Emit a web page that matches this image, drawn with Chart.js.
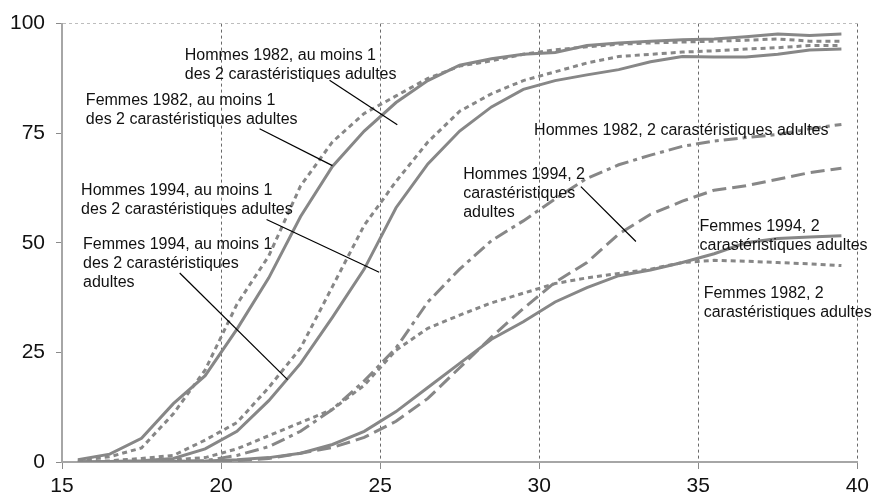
<!DOCTYPE html>
<html>
<head>
<meta charset="utf-8">
<script src="https://cdn.jsdelivr.net/npm/chart.js@4"></script>
<style>
  html, body { margin: 0; padding: 0; background: #fff; }
  #wrap { width: 874px; height: 496px; position: relative; }
</style>
</head>
<body>
<div id="wrap"><canvas id="chart"></canvas></div>
<script>
// --- ages (demi-années) ---
const ages = [15.5, 16.5, 17.5, 18.5, 19.5, 20.5, 21.5, 22.5, 23.5, 24.5, 25.5, 26.5, 27.5,
  28.5, 29.5, 30.5, 31.5, 32.5, 33.5, 34.5, 35.5, 36.5, 37.5, 38.5, 39.5];

// au moins 1 des 2 caractéristiques
const femmes1982Un = [0.5, 1.8, 5.4, 13.3, 19.7, 30.3, 42, 56, 67.4, 75.5, 82, 87, 90.5,
  92, 93, 93.4, 95, 95.6, 96, 96.3, 96.5, 97, 97.6, 97.3, 97.6];
const femmes1994Un = [0.3, 1.2, 3.2, 11, 21, 36, 47, 63, 73, 79.5, 83.5, 87.5, 90.3,
  91.5, 93, 94, 94.7, 95.3, 95.6, 95.8, 96, 96.2, 96.5, 96, 96];
const hommes1982Un = [0, 0.1, 0.3, 0.8, 3, 7, 14, 22.5, 33, 44, 58, 68, 75.5,
  81, 85, 87, 88.3, 89.5, 91.3, 92.5, 92.4, 92.4, 93, 94, 94.2];
const hommes1994Un = [0, 0.3, 0.8, 1.5, 5, 9, 17, 26, 40, 54, 64, 73, 80,
  84, 87, 89, 91, 92.5, 93, 93.5, 93.8, 94.2, 94.5, 95, 95];

// les 2 caractéristiques
const hommes1982Deux = [0, 0, 0, 0.1, 0.3, 1.5, 3.5, 7, 12, 18.5, 26, 36.5, 44,
  50.5, 55, 60, 64.7, 67.8, 70, 72, 73.2, 74, 74.7, 76, 77];
const hommes1994Deux = [0, 0, 0, 0, 0.1, 0.3, 0.8, 2, 3.3, 5.6, 9.3, 14.5, 21.5,
  28.5, 35, 41, 45.5, 52, 56.5, 59.5, 62, 63, 64.5, 66, 67];
const femmes1994Deux = [0, 0, 0, 0.1, 0.2, 0.5, 1, 2, 4, 7, 11.5, 17, 22.5,
  28, 32, 36.5, 39.8, 42.5, 43.8, 45.5, 47.5, 50, 51, 51.3, 51.6];
const femmes1982Deux = [0, 0, 0.2, 0.5, 1, 3, 6, 9, 12, 17.5, 25.5, 30.5, 33.5,
  36.3, 38.5, 40.7, 42, 43, 44, 45.5, 46, 45.8, 45.5, 45.2, 44.8];

// --- étiquettes (position du texte en unités du graphique, trait de rappel éventuel) ---
const notes = [
  { lines: ['Hommes 1982, au moins 1', 'des 2 carastéristiques adultes'], at: [18.86, 92.7], lead: [23.41, 87.1, 25.54, 76.9] },
  { lines: ['Femmes 1982, au moins 1', 'des 2 carastéristiques adultes'], at: [15.75, 82.5], lead: [21.21, 76.0, 23.5, 67.6] },
  { lines: ['Hommes 1994, au moins 1', 'des 2 carastéristiques adultes'], at: [15.6, 61.9], lead: [21.43, 55.3, 24.97, 43.3] },
  { lines: ['Femmes 1994, au moins 1', 'des 2 carastéristiques', 'adultes'], at: [15.66, 49.7], lead: [18.7, 43.1, 22.09, 18.8] },
  { lines: ['Hommes 1982, 2 carastéristiques adultes'], at: [29.84, 75.7] },
  { lines: ['Hommes 1994, 2', 'carastéristiques', 'adultes'], at: [27.61, 65.5], lead: [31.31, 62.8, 33.04, 50.3] },
  { lines: ['Femmes 1994, 2', 'carastéristiques adultes'], at: [35.04, 53.7] },
  { lines: ['Femmes 1982, 2', 'carastéristiques adultes'], at: [35.17, 38.5] }
];

const GREY = '#878787';
const DOT = [5, 4];
const LONG = [14, 6];
const DASHDOT = [14, 5, 4, 5];

function serie(label, values, dash) {
  return {
    label,
    data: ages.map((a, i) => ({ x: a, y: values[i] })),
    borderColor: GREY,
    borderWidth: 3,
    borderDash: dash,
    pointRadius: 0,
    fill: false,
    tension: 0
  };
}

const notesPlugin = {
  id: 'notes',
  afterDraw(chart) {
    const { ctx, scales: { x, y } } = chart;
    ctx.save();
    ctx.font = '16px "Liberation Sans", Arial, sans-serif';
    ctx.fillStyle = '#111';
    ctx.textBaseline = 'middle';
    ctx.textAlign = 'left';
    notes.forEach(n => {
      if (n.lead) {
        ctx.strokeStyle = '#000';
        ctx.lineWidth = 1.2;
        ctx.setLineDash([]);
        ctx.beginPath();
        ctx.moveTo(x.getPixelForValue(n.lead[0]), y.getPixelForValue(n.lead[1]));
        ctx.lineTo(x.getPixelForValue(n.lead[2]), y.getPixelForValue(n.lead[3]));
        ctx.stroke();
      }
      const px = x.getPixelForValue(n.at[0]);
      const py = y.getPixelForValue(n.at[1]);
      n.lines.forEach((t, i) => ctx.fillText(t, px, py + i * 19));
    });
    ctx.restore();
  }
};

new Chart(document.getElementById('chart'), {
  type: 'line',
  data: {
    datasets: [
      serie('Femmes 1982, au moins 1', femmes1982Un, []),
      serie('Femmes 1994, au moins 1', femmes1994Un, DOT),
      serie('Hommes 1982, au moins 1', hommes1982Un, []),
      serie('Hommes 1994, au moins 1', hommes1994Un, DOT),
      serie('Hommes 1982, 2', hommes1982Deux, DASHDOT),
      serie('Hommes 1994, 2', hommes1994Deux, LONG),
      serie('Femmes 1994, 2', femmes1994Deux, []),
      serie('Femmes 1982, 2', femmes1982Deux, DOT)
    ]
  },
  options: {
    responsive: true,
    maintainAspectRatio: false,
    animation: false,
    layout: { padding: { top: 21, right: 15, left: 0, bottom: 0 } },
    plugins: { legend: { display: false }, tooltip: { enabled: false } },
    scales: {
      x: {
        type: 'linear',
        min: 15,
        max: 40,
        ticks: { stepSize: 5, color: '#111', padding: 5, font: { size: 21, family: '"Liberation Sans", Arial' } },
        grid: {
          color: c => (c.tick && c.tick.value > 15) ? '#6a6a6a' : 'rgba(0,0,0,0)',
          tickColor: '#8a8a8a',
          tickLength: 7,
          lineWidth: 1
        },
        border: { color: '#a6a6a6', width: 2, dash: [3, 3] },
        afterFit: s => { s.height = 34; }
      },
      y: {
        min: 0,
        max: 100,
        ticks: { stepSize: 25, color: '#111', padding: 11, font: { size: 21, family: '"Liberation Sans", Arial' } },
        grid: {
          color: c => (c.tick && c.tick.value === 100) ? '#bdbdbd' : 'rgba(0,0,0,0)',
          tickColor: '#8a8a8a',
          tickLength: 6,
          lineWidth: 1
        },
        border: { color: '#a6a6a6', width: 2, dash: [3, 3] },
        afterFit: s => { s.width = 62; }
      }
    }
  },
  plugins: [notesPlugin]
});
</script>
</body>
</html>
